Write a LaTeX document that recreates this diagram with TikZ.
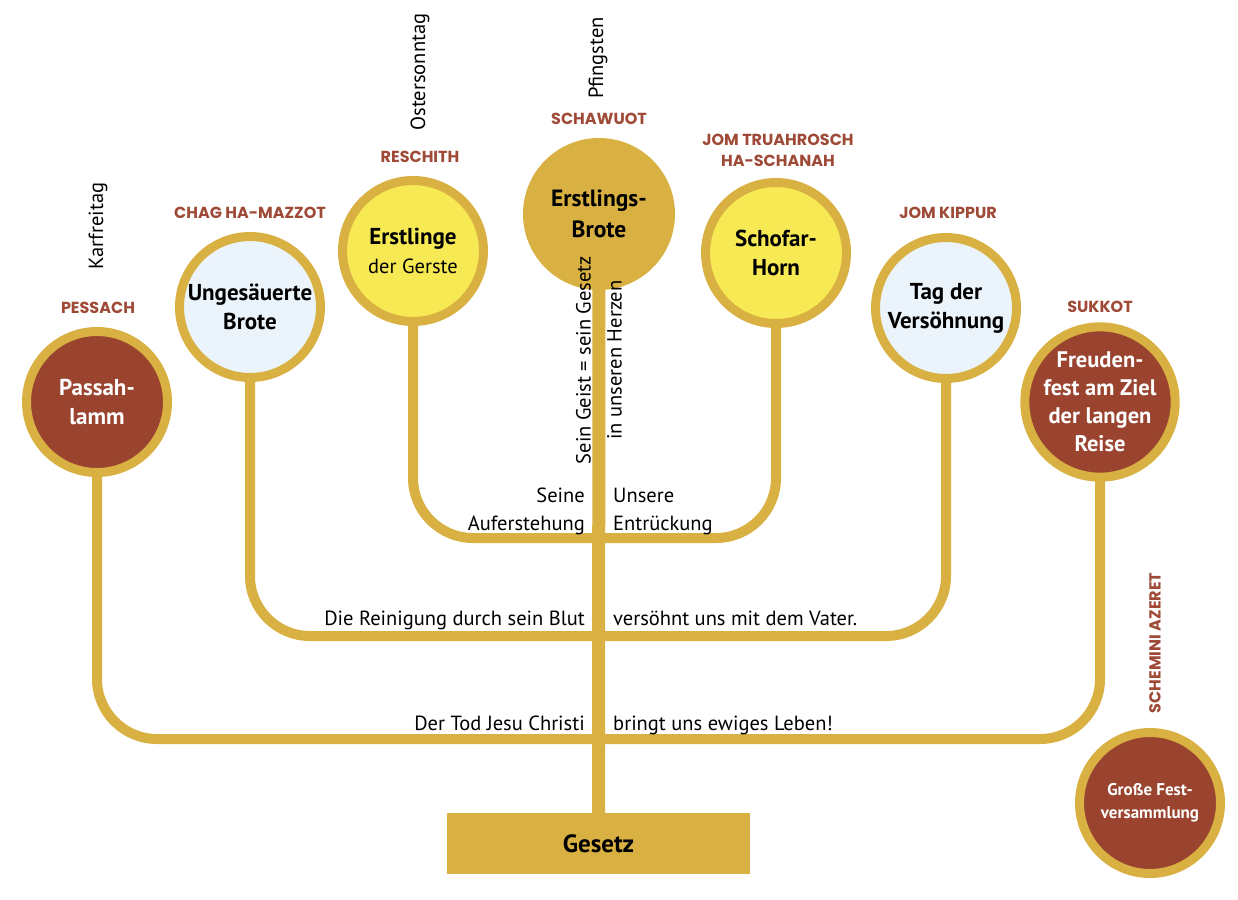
\documentclass[tikz,border=0pt]{standalone}
\usepackage{fontspec}
\setmainfont{PT Sans}
\newfontfamily\labfont{Poppins}
\usetikzlibrary{backgrounds}
\definecolor{gold}{HTML}{D9B042}
\definecolor{brownred}{HTML}{9A4430}
\definecolor{paleblue}{HTML}{EBF3FB}
\definecolor{sunyellow}{HTML}{F7E954}
\definecolor{labred}{HTML}{9E4A36}
\begin{document}
\begin{tikzpicture}[x=1pt,y=-1pt,
 fest/.style={circle, draw=gold, line width=9pt, minimum size=141pt, inner sep=0pt, align=center, font=\fontsize{23}{29}\selectfont\bfseries},
 brownfest/.style={fest, fill=brownred, text=white},
 bluefest/.style={fest, fill=paleblue},
 yellowfest/.style={fest, fill=sunyellow},
 hebr/.style={font=\labfont\bfseries\fontsize{16}{21}\selectfont, text=labred, align=center, inner sep=0pt},
 dayname/.style={rotate=90, font=\fontsize{20.5}{24}\selectfont, inner sep=0pt},
 branch/.style={draw=gold, line width=10pt, rounded corners=60pt},
 linetext/.style={font=\fontsize{20.5}{28}\selectfont, inner sep=0pt},
]
\useasboundingbox (0,0) rectangle (1238,899);

% festival circles
\node[brownfest] (passah) at (97,402) {Passah-\\lamm};
\node[bluefest] (mazzot) at (250,307) {Ungesäuerte\\Brote};
\node[yellowfest] (reschith) at (413,251) {Erstlinge\\{\mdseries\fontsize{20.5}{29}\selectfont der Gerste}};
\node[fest, fill=gold, draw=none, minimum size=152pt, font=\fontsize{23.5}{31}\selectfont\bfseries] (schawuot) at (599,214) {Erstlings-\\Brote};
\node[yellowfest] (schofar) at (776,253) {Schofar-\\Horn};
\node[bluefest] (kippur) at (946,308) {Tag der\\Versöhnung};
\node[brownfest, font=\fontsize{22.5}{28}\selectfont\bfseries] (sukkot) at (1100,402) {Freuden-\\fest am Ziel\\der langen\\Reise};
\node[brownfest, font=\fontsize{17}{23}\selectfont\bfseries] (azeret) at (1150,803) {Große Fest-\\versammlung};

% base
\node[fill=gold, minimum width=303pt, minimum height=61pt, inner sep=0pt, font=\bfseries\fontsize{25}{28}\selectfont] (gesetz) at (598.5,843.5) {Gesetz};

% junctions
\coordinate (j1) at (599,538);
\coordinate (j2) at (599,636);
\coordinate (j3) at (599,739);

\begin{scope}[on background layer]
\draw[gold, line width=13pt] (schawuot.center) -- (gesetz.north);
\draw[branch] (reschith.center) |- (j1) -| (schofar.center);
\draw[branch] (mazzot.center) |- (j2) -| (kippur.center);
\draw[branch] (passah.center) |- (j3) -| (sukkot.center);
\end{scope}

% hebrew names
\node[hebr] (lpessach) at (98,308) {PESSACH};
\node[hebr] (lmazzot) at (250,213) {CHAG HA-MAZZOT};
\node[hebr] (lreschith) at (420,157) {RESCHITH};
\node[hebr] (lschawuot) at (599,119) {SCHAWUOT};
\node[hebr] (ltruah) at (778,150) {JOM TRUAHROSCH\\HA-SCHANAH};
\node[hebr] (lkippur) at (948,213) {JOM KIPPUR};
\node[hebr] (lsukkot) at (1100,307) {SUKKOT};
\node[hebr, rotate=90] (lazeret) at (1155,643) {SCHEMINI AZERET};

% day names
\node[dayname] (karfreitag) at (98,226) {Karfreitag};
\node[dayname] (ostern) at (420,72) {Ostersonntag};
\node[dayname] (pfingsten) at (598,58) {Pfingsten};

% stem text
\node[rotate=90, align=center, inner sep=0pt, font=\fontsize{20.5}{31}\selectfont] (geist) at (599,360) {Sein Geist = sein Gesetz\\in unseren Herzen};

% line texts
\node[linetext, anchor=base east] (t1a) at (585,502) {Seine};
\node[linetext, anchor=base east] (t1b) at (585,530) {Auferstehung};
\node[linetext, anchor=base west] (t2a) at (613,502) {Unsere};
\node[linetext, anchor=base west] (t2b) at (613,530) {Entrückung};
\node[linetext, anchor=base east] (t3) at (585,625) {Die Reinigung durch sein Blut};
\node[linetext, anchor=base west] (t4) at (613,625) {versöhnt uns mit dem Vater.};
\node[linetext, anchor=base east] (t5) at (585,730) {Der Tod Jesu Christi};
\node[linetext, anchor=base west] (t6) at (613,730) {bringt uns ewiges Leben!};
\end{tikzpicture}
\end{document}
